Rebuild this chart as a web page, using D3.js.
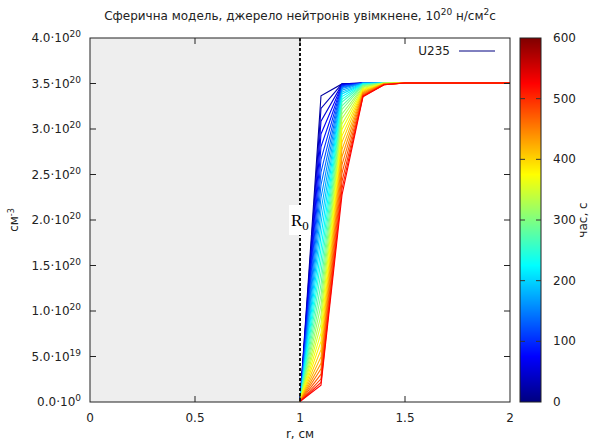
<!DOCTYPE html>
<html><head><meta charset="utf-8">
<script src="https://cdn.jsdelivr.net/npm/d3@7"></script>
<style>body{margin:0;background:#fff}svg{display:block}text{font-family:"DejaVu Sans",sans-serif;fill:#222}</style>
</head><body><svg id="c" width="589" height="442"></svg>
<script>
// ---- data ----
const times = [17.5,35,52.5,70,87.5,105,122.5,140,157.5,175,192.5,210,227.5,245,262.5,280,297.5,315,332.5,350,367.5,385,402.5,420,437.5,455,472.5,490,507.5,525];
const rGrid = [1.0,1.1,1.2,1.3,1.4,1.5,1.6,1.7,1.8,1.9,2.0];
// concentration in units of 1e20 cm^-3 at r = 1.0 ... 1.4
const valR10 = times.map(()=>0); // boundary value
const valR11 = [3.36,3.22,3.08,2.94,2.80,2.66,2.52,2.38,2.24,2.10,1.96,1.82,1.68,1.55,1.42,1.29,1.17,1.06,0.95,0.85,0.75,0.66,0.57,0.49,0.42,0.36,0.30,0.25,0.21,0.18];
const valR12 = [3.49,3.49,3.485,3.48,3.475,3.47,3.46,3.45,3.44,3.42,3.40,3.38,3.35,3.32,3.29,3.25,3.21,3.16,3.11,3.05,2.99,2.92,2.85,2.77,2.69,2.60,2.51,2.42,2.34,2.27];
const valR13 = [3.50,3.50,3.50,3.50,3.50,3.50,3.50,3.50,3.50,3.50,3.495,3.49,3.49,3.485,3.48,3.475,3.47,3.46,3.45,3.44,3.43,3.42,3.41,3.40,3.39,3.38,3.37,3.36,3.355,3.35];
const valR14 = [3.50,3.50,3.50,3.50,3.50,3.50,3.50,3.50,3.50,3.50,3.50,3.50,3.50,3.50,3.50,3.50,3.50,3.50,3.50,3.495,3.495,3.495,3.49,3.49,3.49,3.485,3.485,3.48,3.48,3.48];
const valFar = [3.5,3.5,3.5,3.5,3.5,3.5]; // r = 1.5 ... 2.0 (all curves)
const yTicks = [0,0.5,1.0,1.5,2.0,2.5,3.0,3.5,4.0];
const yTickMant = ["0.0","5.0","1.0","1.5","2.0","2.5","3.0","3.5","4.0"];
const yTickExp = ["0","19","20","20","20","20","20","20","20"];
const xTicks = [0,0.5,1,1.5,2];
const xTickLabels = ["0","0.5","1","1.5","2"];
const cbTicks = [0,100,200,300,400,500,600];
const R0 = 1.0;

// ---- layout ----
const svg = d3.select("#c");
const L=90,R=510,T=38,B=402;
const x = d3.scaleLinear().domain([0,2]).range([L,R]);
const y = d3.scaleLinear().domain([0,4]).range([B,T]);
const jetStops = [[0,[0,0,0.5]],[0.125,[0,0,1]],[0.375,[0,1,1]],[0.625,[1,1,0]],[0.875,[1,0,0]],[1,[0.5,0,0]]];
function jet(u){
  u=Math.max(0,Math.min(1,u));
  for(let i=1;i<jetStops.length;i++){
    if(u<=jetStops[i][0]){
      const [a,ca]=jetStops[i-1],[b,cb]=jetStops[i];const f=(u-a)/(b-a);
      const c=ca.map((v,k)=>Math.round(255*(v+(cb[k]-v)*f)));
      return `rgb(${c[0]},${c[1]},${c[2]})`;
    }
  }
}
const cScale = d3.scaleLinear().domain([0,600]).range([0,1]);

// background grey region r<R0
svg.append("rect").attr("x",x(0)).attr("y",T).attr("width",x(R0)-x(0)).attr("height",B-T).attr("fill","#eeeeee");

// curves
const line = d3.line().x(d=>x(d[0])).y(d=>y(d[1]));
const g = svg.append("g").attr("transform","translate(0,-0.5)");
times.forEach((t,i)=>{
  const vals=[valR10[i],valR11[i],valR12[i],valR13[i],valR14[i],...valFar];
  const pts=rGrid.map((r,k)=>[r,vals[k]]);
  g.append("path").attr("d",line(pts)).attr("fill","none").attr("stroke",jet(cScale(t))).attr("stroke-width",1.1);
});

// dashed R0 line
svg.append("line").attr("x1",x(R0)).attr("x2",x(R0)).attr("y1",T).attr("y2",B)
  .attr("stroke","#111").attr("stroke-width",2).attr("stroke-dasharray","3,2");

// R0 label
svg.append("rect").attr("x",x(R0)-11).attr("y",y(2.0)-15).attr("width",22).attr("height",30).attr("fill","#fff");
const rl = svg.append("text").attr("x",x(R0)-9).attr("y",y(2.0)+6).style("font-family","'Liberation Serif',serif").style("font-size","17px").style("fill","#000");
rl.append("tspan").text("R");
rl.append("tspan").attr("dy",4).style("font-size","13px").text("0");

// frame
svg.append("rect").attr("x",L).attr("y",T).attr("width",R-L).attr("height",B-T).attr("fill","none").attr("stroke","#222").attr("stroke-width",1);

// ticks
const tk=svg.append("g").attr("stroke","#222").attr("stroke-width",1);
yTicks.forEach(v=>{
  if(v===0||v===4) return;
  tk.append("line").attr("x1",L).attr("x2",L+6).attr("y1",y(v)).attr("y2",y(v));
  tk.append("line").attr("x1",R).attr("x2",R-6).attr("y1",y(v)).attr("y2",y(v));
});
xTicks.forEach(v=>{
  if(v===0||v===2) return;
  tk.append("line").attr("x1",x(v)).attr("x2",x(v)).attr("y1",B).attr("y2",B-6);
  tk.append("line").attr("x1",x(v)).attr("x2",x(v)).attr("y1",T).attr("y2",T+6);
});
// y tick labels
yTicks.forEach((v,i)=>{
  const t=svg.append("text").attr("x",L-9).attr("y",y(v)+4).attr("text-anchor","end").style("font-size","12px");
  t.append("tspan").text(yTickMant[i]+"·10");
  t.append("tspan").attr("dy",-5).style("font-size","9px").text(yTickExp[i]);
});
xTicks.forEach((v,i)=>{
  svg.append("text").attr("x",x(v)).attr("y",B+20).attr("text-anchor","middle").style("font-size","12px").text(xTickLabels[i]);
});

// axis labels
svg.append("text").attr("x",300).attr("y",438).attr("text-anchor","middle").style("font-size","12px").text("r, см");
const yl=svg.append("text").attr("transform","translate(18,220) rotate(-90)").attr("text-anchor","middle").style("font-size","12px");
yl.append("tspan").text("см");
yl.append("tspan").attr("dy",-4).style("font-size","8px").text("-3");

// title
const tt=svg.append("text").attr("x",300).attr("y",20).attr("text-anchor","middle").style("font-size","12px");
tt.append("tspan").text("Сферична модель, джерело нейтронів увімкнене, 10");
tt.append("tspan").attr("dy",-5).style("font-size","9px").text("20");
tt.append("tspan").attr("dy",5).text(" н/см");
tt.append("tspan").attr("dy",-5).style("font-size","9px").text("2");
tt.append("tspan").attr("dy",5).text("с");

// legend
svg.append("text").attr("x",450).attr("y",55).attr("text-anchor","end").style("font-size","12px").text("U235");
svg.append("line").attr("x1",459).attr("x2",495).attr("y1",51).attr("y2",51).attr("stroke",jet(0)).attr("stroke-width",1);

// colorbar
const cbX=520,cbW=21;
const cy=d3.scaleLinear().domain([0,600]).range([B,T]);
for(let py=T;py<B;py++){
  const tv=cy.invert(py+0.5);
  svg.append("rect").attr("x",cbX).attr("y",py).attr("width",cbW).attr("height",1).attr("fill",jet(cScale(tv)));
}
svg.append("rect").attr("x",cbX).attr("y",T).attr("width",cbW).attr("height",B-T).attr("fill","none").attr("stroke","#222").attr("stroke-width",1);
cbTicks.forEach(v=>{
  if(v!==0&&v!==600){
    svg.append("line").attr("x1",cbX).attr("x2",cbX+5).attr("y1",cy(v)).attr("y2",cy(v)).attr("stroke","#333");
    svg.append("line").attr("x1",cbX+cbW).attr("x2",cbX+cbW-5).attr("y1",cy(v)).attr("y2",cy(v)).attr("stroke","#333");
  }
  svg.append("text").attr("x",553).attr("y",cy(v)+4).style("font-size","12px").text(v);
});
svg.append("text").attr("transform","translate(587,220) rotate(-90)").attr("text-anchor","middle").style("font-size","12px").text("час, с");
</script></body></html>
